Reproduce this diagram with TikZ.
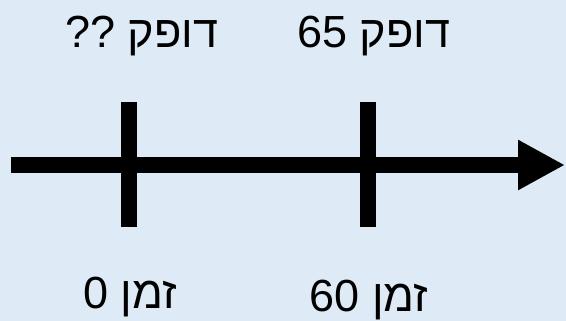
\documentclass[tikz,border=0pt]{standalone}
\usepackage{fontspec}
\setmainfont{Liberation Sans}
\newfontfamily\hebfont[Script=Hebrew]{Liberation Sans}
\TeXXeTstate=1
\usetikzlibrary{arrows.meta}
\definecolor{bgblue}{HTML}{DEEBF7}
\tikzset{
  lbl/.style={anchor=base, inner sep=0pt, font=\hebfont\fontsize{45}{45}\selectfont},
  tick/.style={line width=16pt, line cap=butt},
  axis/.style={line width=16pt, -{Triangle[length=47pt,width=47pt]}}
}
\begin{document}
\begin{tikzpicture}[x=1pt,y=-1pt]
\fill[bgblue] (0,0) rectangle (566,321);
\useasboundingbox (0,0) rectangle (566,321);
\coordinate (start) at (11,165);
\coordinate (end) at (565,165);
\coordinate (t1top) at (129,102);
\coordinate (t1bot) at (129,227);
\coordinate (t2top) at (368,102);
\coordinate (t2bot) at (368,227);
\draw[axis] (start) -- (end);
\draw[tick] (t1top) -- (t1bot);
\draw[tick] (t2top) -- (t2bot);
\node[lbl] (p1) at (142,48) {\beginR דופק ??\endR};
\node[lbl] (p2) at (374,48) {\beginR דופק \beginL65\endL\endR};
\node[lbl] (z1) at (130,308) {\beginR זמן \beginL0\endL\endR};
\node[lbl] (z2) at (369,311) {\beginR זמן \beginL60\endL\endR};
\end{tikzpicture}
\end{document}
